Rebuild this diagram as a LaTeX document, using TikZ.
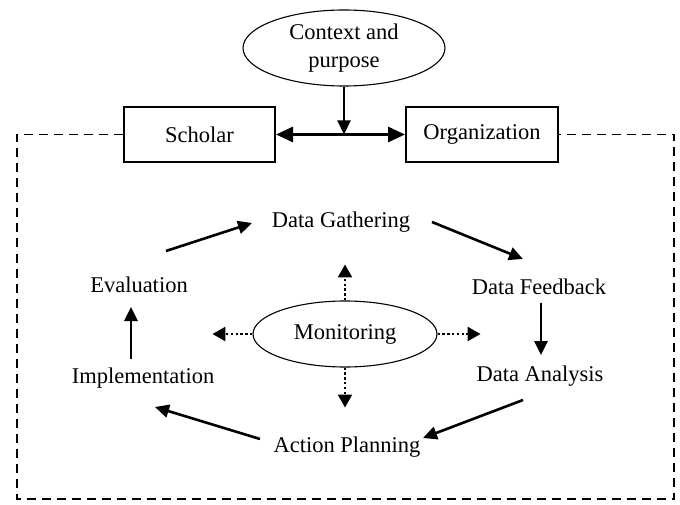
\documentclass[tikz,border=0pt]{standalone}
\usepackage{fontspec}
\setmainfont{Liberation Serif}
\usetikzlibrary{arrows.meta,shapes.geometric,calc}
\begin{document}
\begin{tikzpicture}[x=1pt,y=-1pt,
  every node/.style={font=\fontsize{22.5}{28}\selectfont, inner sep=0pt},
  label/.style={},
  actor/.style={draw, line width=2pt, minimum height=55pt},
  oval/.style={draw, ellipse, line width=1.1pt},
  flow/.style={line width=2.6pt, -{Triangle[length=14pt,width=13pt]}},
  link/.style={line width=3pt, {Triangle[length=17pt,width=15pt]}-{Triangle[length=17pt,width=15pt]}},
  probe/.style={line width=2.4pt, dash pattern=on 2.4pt off 2.4pt, -{Triangle[length=13pt,width=14pt]}},
  frame/.style={line width=1.5pt, dash pattern=on 9pt off 6pt}]
\useasboundingbox (0,0) rectangle (680,505);

% top: context, actors and the frame around the cycle
\node[oval, minimum width=202pt, minimum height=76pt, align=center] (ctx) at (344,48) {Context and\\purpose};
\node[actor, minimum width=151pt] (scholar) at (199.5,134.5) {Scholar};
\node[actor, minimum width=152pt] (org) at (482,134.5) {Organization};
\draw[link] (scholar.east) -- (org.west);
\draw[flow, line width=2.2pt] (ctx.south) -- (ctx.south |- scholar.east);
\draw[frame] (scholar.west) -- (17,134.5) -- (17,499) -- (674,499) -- (674,134.5) -- (org.east);

% the cycle
\node[label] (gather)   at (341,222) {Data Gathering};
\node[label] (feedback) at (539,287) {Data Feedback};
\node[label] (analysis) at (540,376) {Data Analysis};
\node[label] (action)   at (347,447) {Action Planning};
\node[label] (impl)     at (143,378) {Implementation};
\node[label] (eval)     at (139,285) {Evaluation};

\draw[flow] ($(eval)+(27,-34)$) -- ($(gather)+(-89,1)$);
\draw[flow] ($(gather)+(91,0)$) -- ($(feedback)+(-16,-28)$);
\draw[flow] ($(feedback)+(2,16)$) -- ($(analysis)+(1,-21)$);
\draw[flow] ($(analysis)+(-17,24)$) -- ($(action)+(76,-9)$);
\draw[flow] ($(action)+(-87,-8)$) -- ($(impl)+(12,29)$);
\draw[flow] ($(impl)+(-12,-19)$) -- ($(eval)+(-8,22)$);

% monitoring in the middle
\node[oval, minimum width=184pt, minimum height=66pt] (mon) at (345,334) {Monitoring};
\draw[probe] (mon.north) -- ++(0,-36);
\draw[probe] (mon.south) -- ++(0,40);
\draw[probe] (mon.west) -- ++(-40,0);
\draw[probe] (mon.east) -- ++(43,0);
\end{tikzpicture}
\end{document}
